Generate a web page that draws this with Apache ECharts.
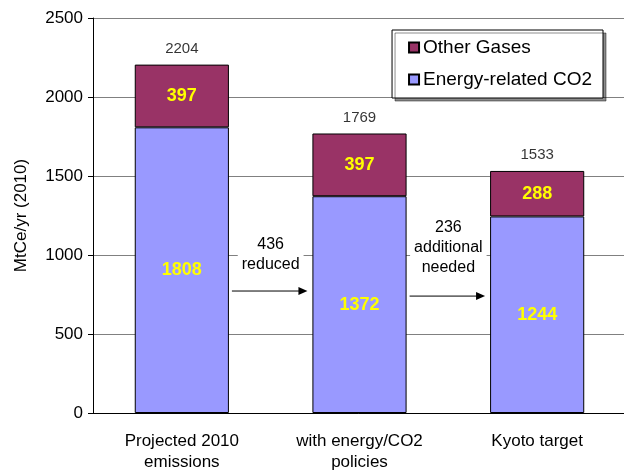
<!DOCTYPE html>
<html>
<head>
<meta charset="utf-8">
<script src="https://cdn.jsdelivr.net/npm/echarts@6/dist/echarts.min.js"></script>
<style>
  html, body { margin: 0; padding: 0; background: #fff; }
  #chart { width: 624px; height: 470px; }
</style>
</head>
<body>
<div id="chart"></div>
<script>
const categories = ['Projected 2010\nemissions', 'with energy/CO2\npolicies', 'Kyoto target']
const energyCO2 = [1808, 1372, 1244]
const otherGases = [397, 397, 288]
const totals = [2204, 1769, 1533]
const yTicks = { min: 0, max: 2500, interval: 500 }
// notes between the bars: text, level of text centre and arrow (in MtCe)
const notes = [
  { text: '436\nreduced', textAt: 1005, arrowAt: 772 },
  { text: '236\nadditional\nneeded', textAt: 1045, arrowAt: 740 }
]

const font = 'Liberation Sans, Arial, sans-serif'
const chart = echarts.init(document.getElementById('chart'))

chart.setOption({
  animation: false,
  textStyle: { fontFamily: font },
  grid: { left: 93, right: -2, top: 18, bottom: 57, outerBoundsMode: 'none', containLabel: false },
  legend: {
    data: ['Other Gases', 'Energy-related CO2'],
    orient: 'vertical',
    icon: 'rect',
    right: 21,
    top: 30,
    itemWidth: 10,
    itemHeight: 10,
    itemGap: 13,
    padding: [8, 11, 9, 16],
    backgroundColor: '#fff',
    borderColor: '#000',
    borderWidth: 1,
    shadowColor: 'rgba(0,0,0,0.45)',
    shadowOffsetX: 3,
    shadowOffsetY: 3,
    textStyle: { fontSize: 19, color: '#000', fontFamily: font, padding: [0, 0, 0, -1] }
  },
  xAxis: {
    type: 'category',
    data: categories,
    axisLine: { lineStyle: { color: '#000' } },
    axisTick: { lineStyle: { color: '#000' }, length: 5 },
    axisLabel: { color: '#000', fontSize: 17, lineHeight: 21, margin: 18 }
  },
  yAxis: {
    type: 'value',
    min: yTicks.min,
    max: yTicks.max,
    interval: yTicks.interval,
    name: 'MtCe/yr (2010)',
    nameLocation: 'middle',
    nameGap: 63,
    nameTextStyle: { color: '#000', fontSize: 17 },
    axisLine: { show: true, lineStyle: { color: '#000' } },
    axisTick: { show: true, lineStyle: { color: '#000' }, length: 5 },
    axisLabel: { color: '#000', fontSize: 17, margin: 10, formatter: v => String(v) },
    splitLine: { lineStyle: { color: '#808080' } }
  },
  series: [
    {
      name: 'Energy-related CO2',
      type: 'bar',
      stack: 'total',
      barWidth: '53%',
      data: energyCO2,
      itemStyle: { color: '#9999ff', borderColor: '#000', borderWidth: 1 },
      label: { show: true, position: 'inside', color: '#ffff00', fontWeight: 'bold', fontSize: 18 }
    },
    {
      name: 'Other Gases',
      type: 'bar',
      stack: 'total',
      data: otherGases,
      itemStyle: { color: '#993366', borderColor: '#000', borderWidth: 1 },
      label: { show: true, position: 'inside', color: '#ffff00', fontWeight: 'bold', fontSize: 18 }
    },
    {
      name: 'Total',
      type: 'scatter',
      data: totals,
      symbolSize: 0,
      label: { show: true, position: 'top', distance: 8, color: '#000', fontSize: 15 }
    }
  ]
})

// arrows and notes placed through the axes
const graphics = []
notes.forEach((n, i) => {
  const a = chart.convertToPixel({ gridIndex: 0 }, [i, n.arrowAt])
  const b = chart.convertToPixel({ gridIndex: 0 }, [i + 1, n.arrowAt])
  const t = chart.convertToPixel({ gridIndex: 0 }, [i, n.textAt])
  const half = (b[0] - a[0]) * 0.265
  const x1 = a[0] + half + 3
  const x2 = b[0] - half - 5
  graphics.push({
    type: 'text',
    x: (a[0] + b[0]) / 2,
    y: t[1],
    style: {
      text: n.text,
      fill: '#000',
      fontSize: 16,
      fontFamily: font,
      lineHeight: 20,
      align: 'center',
      verticalAlign: 'middle',
      backgroundColor: '#fff',
      padding: [1, 4]
    },
    z: 10
  })
  graphics.push({
    type: 'line',
    shape: { x1: x1, y1: a[1], x2: x2 - 8, y2: a[1] },
    style: { stroke: '#000', lineWidth: 1 },
    z: 10
  })
  graphics.push({
    type: 'polygon',
    shape: { points: [[x2, a[1]], [x2 - 9, a[1] - 4], [x2 - 9, a[1] + 4]] },
    style: { fill: '#000' },
    z: 10
  })
})
chart.setOption({ graphic: graphics })
</script>
</body>
</html>
